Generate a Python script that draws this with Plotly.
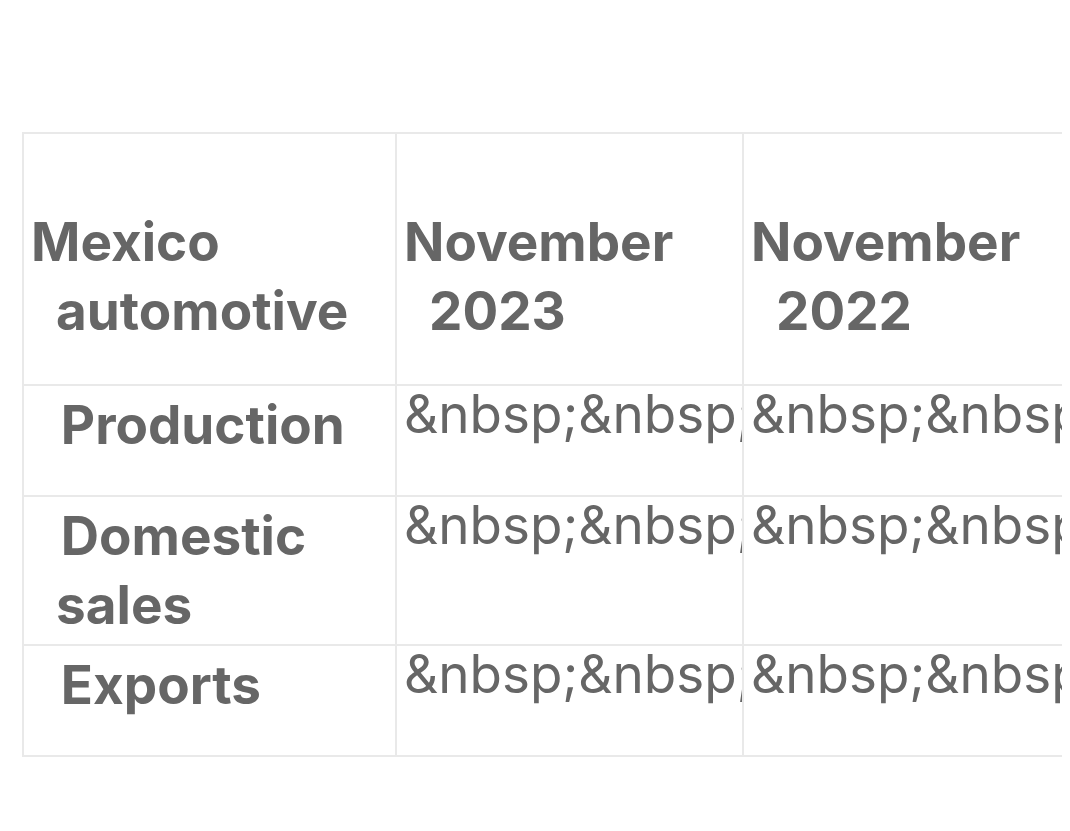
import plotly.graph_objects as go

header = ["Mexico<br>automotive", "November<br>2023", "November<br>2022"]
metrics = ["Production", "Domestic<br>sales", "Exports"]
nov_2023 = ["329,415", "128,961", "281,298"]
nov_2022 = ["278,824", "97,789", "231,126"]

grey = "#666666"
line = "#e9e9e9"
pad = "&nbsp;&nbsp;"

fig = go.Figure(go.Table(
    columnwidth=[373, 347, 335],
    header=dict(
        values=[f"<br><b>{h.replace('<br>', '<br>' + pad)}</b>" for h in header],
        prefix=pad,
        align="left",
        height=252,
        fill_color="white",
        line=dict(color=line, width=2),
        font=dict(family="Inter, Roboto, sans-serif", size=53, color=grey),
    ),
    cells=dict(
        values=[[f"<b>{m.replace('<br>', '<br>' + pad)}</b>" for m in metrics], nov_2023, nov_2022],
        prefix=pad,
        align="left",
        height=111,
        fill_color="white",
        line=dict(color=line, width=2),
        font=dict(family="Inter, Roboto, sans-serif", size=53, color=grey),
    ),
))
fig.update_layout(
    width=1070, height=831,
    margin=dict(l=15, r=0, t=125, b=0),
    paper_bgcolor="white",
)
fig.write_html("out.html")
